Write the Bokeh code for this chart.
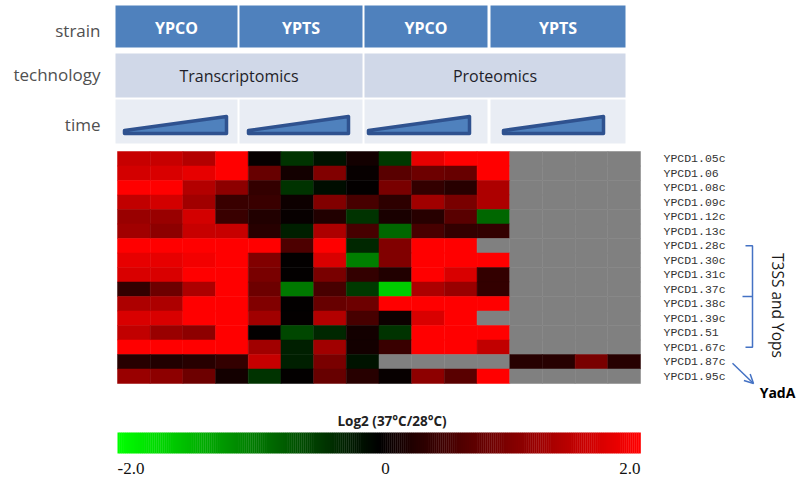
import numpy as np
from bokeh.plotting import figure
from bokeh.models import Range1d, LinearColorMapper, ColumnDataSource, Arrow, OpenHead
from bokeh.transform import transform
from bokeh.core.properties import value
from bokeh.embed import file_html
from bokeh.resources import INLINE

nan = float("nan")

genes = ["YPCD1.05c", "YPCD1.06", "YPCD1.08c", "YPCD1.09c", "YPCD1.12c", "YPCD1.13c",
         "YPCD1.28c", "YPCD1.30c", "YPCD1.31c", "YPCD1.37c", "YPCD1.38c", "YPCD1.39c",
         "YPCD1.51", "YPCD1.67c", "YPCD1.87c", "YPCD1.95c"]
strains = ["YPCO", "YPTS", "YPCO", "YPTS"]
technologies = ["Transcriptomics", "Proteomics"]
row_titles = ["strain", "technology", "time"]

# log2(37C/28C), 4 time points per block, one list per gene
trans_ypco = [[1.55, 1.55, 1.4, 2.0], [1.65, 1.7, 1.8, 2.0], [2.0, 2.0, 1.4, 1.1], [1.5, 1.65, 1.25, 0.45],
              [1.2, 1.2, 1.65, 0.45], [1.25, 1.1, 1.55, 1.55], [2.0, 2.0, 2.0, 2.0], [1.8, 1.8, 1.9, 2.0],
              [1.7, 1.7, 2.0, 2.0], [0.4, 0.85, 1.35, 2.0], [1.35, 1.35, 2.0, 2.0], [1.7, 1.7, 2.0, 2.0],
              [1.5, 1.2, 1.1, 2.0], [2.0, 2.0, 2.0, 2.0], [0.3, 0.25, 0.3, 0.4], [1.2, 1.1, 0.85, 0.15]]
trans_ypts = [[0.05, -0.4, -0.15, 0.15], [0.8, 0.15, 1.0, 0.05], [0.4, -0.4, -0.1, 0.03], [0.45, 0.1, 1.0, 0.55],
              [0.25, 0.05, 0.25, -0.4], [0.3, -0.25, 1.35, 0.55], [2.0, 0.6, 2.0, -0.3], [1.0, 0.02, 1.7, -1.0],
              [0.95, 0.02, 0.95, 0.4], [0.85, -0.95, 0.55, -0.45], [1.0, 0.02, 0.8, 0.85], [1.25, 0.02, 1.4, 0.55],
              [0.02, -0.55, -0.3, 0.15], [1.25, -0.25, 1.25, 0.15], [1.55, -0.25, 0.95, -0.15], [-0.4, 0.02, 0.8, 0.3]]
prot_ypco = [[-0.45, 1.8, 2.0, 2.0], [0.7, 0.85, 0.8, 2.0], [0.95, 0.4, 0.3, 1.35], [0.35, 1.25, 0.95, 1.35],
             [0.2, 0.3, 0.7, -0.8], [-0.8, 0.55, 0.4, 0.4], [1.0, 2.0, 2.0, nan], [1.0, 2.0, 2.0, 2.0],
             [0.25, 2.0, 1.7, 0.4], [-1.6, 1.35, 1.2, 0.4], [2.0, 2.0, 2.0, 2.0], [0.1, 1.7, 2.0, nan],
             [-0.4, 2.0, 2.0, 2.0], [0.45, 2.0, 2.0, 1.5], [nan, nan, nan, nan], [0.05, 1.1, 0.7, 2.0]]
prot_ypts = [[nan] * 4] * 14 + [[0.3, 0.3, 0.95, 0.3], [nan, nan, nan, nan]]

cbar_low, cbar_high = -2.0, 2.0
cbar_tick_labels = ["-2.0", "0", "2.0"]
cbar_title = "Log2 (37\u00b0C/28\u00b0C)"
bracket_label = "T3SS and Yops"
arrow_label = "YadA"

# ---------------- geometry helpers (pixel -> data units) ----------------
SX = 523 / 16.0
SY = 232 / 16.0
def X(px):
    return (px - 117) / SX
def Y(py):
    return (py - 151) / SY

W, H = 800, 482

palette = []
for i in range(256):
    t = i / 255 * 2 - 1
    if t < 0:
        palette.append("#%02x%02x%02x" % (0, int(round(-t * 255)), 0))
    else:
        palette.append("#%02x%02x%02x" % (int(round(t * 255)), 0, 0))
mapper = LinearColorMapper(palette=palette, low=cbar_low, high=cbar_high, nan_color="#808080")

p = figure(width=W, height=H, x_range=Range1d(X(0), X(W)), y_range=Range1d(Y(H), Y(0)),
           output_backend="svg", toolbar_location=None, min_border=0)
p.axis.visible = False
p.grid.visible = False
p.outline_line_color = None
p.background_fill_color = "white"
p.border_fill_color = "white"

# ---------------- heatmap ----------------
xs, ys, vals = [], [], []
blocks = [trans_ypco, trans_ypts, prot_ypco, prot_ypts]
for r in range(len(genes)):
    for b, blk in enumerate(blocks):
        for t, v in enumerate(blk[r]):
            xs.append(b * 4 + t + 0.5)
            ys.append(r + 0.5)
            vals.append(v)
src = ColumnDataSource(dict(x=xs, y=ys, v=vals))
p.rect(x="x", y="y", width=1, height=1, source=src,
       fill_color=transform("v", mapper), line_color=transform("v", mapper), line_width=0.5)

# ---------------- header table ----------------
cell_spans = [(115, 237), (239, 362), (364, 487), (490, 625)]
tech_spans = [(115, 362), (364, 625)]
p.quad(left=[X(a) for a, b in cell_spans], right=[X(b) for a, b in cell_spans],
       top=[Y(5)] * 4, bottom=[Y(47)] * 4, fill_color="#4F81BD", line_color=None)
p.quad(left=[X(a) for a, b in tech_spans], right=[X(b) for a, b in tech_spans],
       top=[Y(53)] * 2, bottom=[Y(97)] * 2, fill_color="#D0D8E8", line_color=None)
p.quad(left=[X(a) for a, b in cell_spans], right=[X(b) for a, b in cell_spans],
       top=[Y(99)] * 4, bottom=[Y(143)] * 4, fill_color="#E9EDF4", line_color=None)

p.text(x=[X((a + b) / 2) for a, b in cell_spans], y=[Y(27)] * 4, text=strains,
       text_font=value("Open Sans"), text_font_size="16px", text_font_style="bold",
       text_color="white", text_align="center", text_baseline="middle")
p.text(x=[X((a + b) / 2) for a, b in tech_spans], y=[Y(75)] * 2, text=technologies,
       text_font=value("Open Sans"), text_font_size="16px",
       text_color="#1e1e28", text_align="center", text_baseline="middle")

wedges = [(124, 226), (248, 348), (368, 469), (503, 603)]
p.patches(xs=[[X(a), X(b), X(b), X(a)] for a, b in wedges],
          ys=[[Y(130), Y(116), Y(133), Y(133)] for a, b in wedges],
          fill_color="#4F81BD", line_color="#2F528F", line_width=3.5, line_join="round")

p.text(x=[X(100)] * 3, y=[Y(30), Y(74), Y(124)], text=row_titles,
       text_font=value("Open Sans"), text_font_size="17px",
       text_color="#505050", text_align="right", text_baseline="middle")

# ---------------- row labels ----------------
p.text(x=[X(663)] * len(genes), y=[r + 0.5 for r in range(len(genes))], text=genes,
       text_font=value("Liberation Mono"), text_font_size="11.5px",
       text_color="#333333", text_align="left", text_baseline="middle")

# bracket + labels
bl = "#4472C4"
p.multi_line(xs=[[X(745), X(752), X(752), X(745)], [X(742), X(752)]],
             ys=[[6.5, 6.5, 13.5, 13.5], [Y(296), Y(296)]], line_color=bl, line_width=1.5)
p.text(x=[X(777)], y=[Y(305)], text=[bracket_label], angle=-np.pi / 2,
       text_font=value("Open Sans"), text_font_size="15.5px", text_color="#1a1a1a",
       text_align="center", text_baseline="middle")
p.add_layout(Arrow(end=OpenHead(size=9, line_color=bl, line_width=1.5),
                   x_start=X(732), y_start=14.6, x_end=X(753), y_end=Y(383),
                   line_color=bl, line_width=1.5))
p.text(x=[X(777)], y=[Y(392)], text=[arrow_label], text_font=value("Open Sans"),
       text_font_size="14px", text_font_style="bold", text_color="black",
       text_align="center", text_baseline="middle")

# ---------------- colour bar ----------------
n = 256
edges = np.linspace(cbar_low, cbar_high, n + 1)
to_x = lambda v: (v - cbar_low) / (cbar_high - cbar_low) * 16
cb = ColumnDataSource(dict(l=to_x(edges[:-1]), r=to_x(edges[1:]) + 0.01,
                           v=(edges[:-1] + edges[1:]) / 2))
p.quad(left="l", right="r", top=Y(432), bottom=Y(453), source=cb,
       fill_color=transform("v", mapper), line_color=None)
p.text(x=[to_x(0) + 0.4], y=[Y(420)], text=[cbar_title], text_font=value("Open Sans"),
       text_font_size="13.5px", text_font_style="bold", text_color="#222222",
       text_align="center", text_baseline="middle")
for v, lab, al in zip([cbar_low, 0.0, cbar_high], cbar_tick_labels, ["left", "center", "right"]):
    p.text(x=[to_x(v) + (0.2 if al == "center" else 0)], y=[Y(468)], text=[lab],
           text_font=value("Liberation Serif"), text_font_size="17px", text_color="#111111",
           text_align=al, text_baseline="middle")

open("out.html", "w").write(file_html(p, INLINE))
